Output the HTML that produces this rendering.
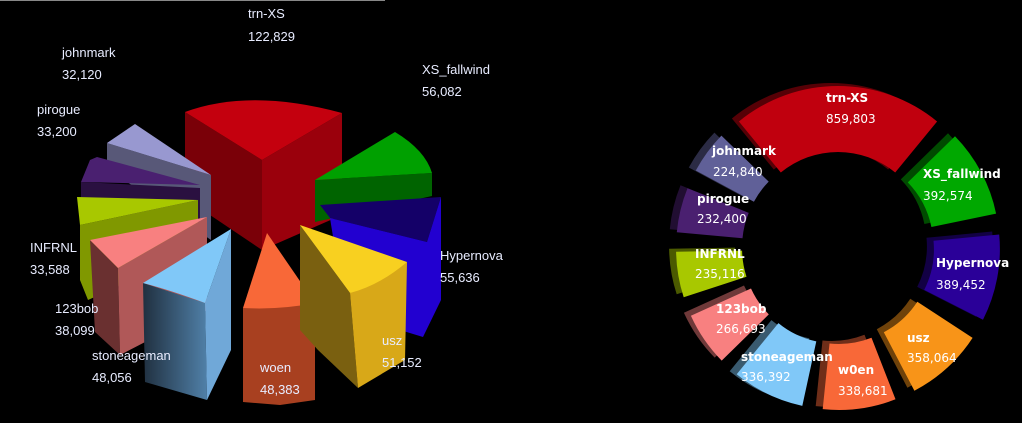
<!DOCTYPE html>
<html><head><style>
html,body{margin:0;padding:0;background:#000;width:1022px;height:423px;overflow:hidden}
svg{display:block}
.l{font-family:"Liberation Sans",sans-serif;font-size:13px;fill:#e8ecff}
.r{font-family:"DejaVu Sans","Liberation Sans",sans-serif;font-size:12px;fill:#fff}
.b{font-weight:bold}
</style></head><body>
<svg id="s" width="1022" height="423" viewBox="0 0 1022 423">
<defs>
<linearGradient id="gl" x1="0" x2="1"><stop offset="0" stop-color="#203040"/><stop offset="1" stop-color="#5080a8"/></linearGradient>
</defs>
<rect width="1022" height="423" fill="#000"/>
<line x1="0" y1="0.5" x2="385" y2="0.5" stroke="#888" stroke-width="1"/>
<!-- red -->
<polygon points="185,112 262,160 262,250 210,215 185,160" fill="#7a0008"/>
<polygon points="262,160 342,113 342,215 262,250" fill="#9a000c"/>
<path d="M262,160 L185,112 Q250,88 342,113 Z" fill="#c4000e"/>
<!-- green -->
<polygon points="315,180 432,173 432,196 315,222" fill="#006400"/>
<path d="M315,180 L395,132 Q425,150 432,173 Z" fill="#00a000"/>
<!-- blue -->
<polygon points="320,205 441,197 427,242 330,218" fill="#140068"/>
<polygon points="330,218 427,242 441,197 441,300 423,337 400,330 340,280" fill="#2200d0"/>
<!-- lavender -->
<polygon points="107,143 211,175 211,240 107,168" fill="#585878"/>
<path d="M107,143 L135,124 L211,175 Z" fill="#9898d0"/>
<!-- purple -->
<polygon points="81,182 200,188 200,240 81,200" fill="#2a1040"/>
<path d="M81,182 L90,160 L97,157 L200,185 Z" fill="#4a2070"/>
<!-- INFRNL -->
<polygon points="80,225 198,200 198,250 88,300 80,280" fill="#809800"/>
<path d="M77,197 L198,200 L80,225 Z" fill="#a8c800"/>
<!-- pink -->
<polygon points="90,240 118,268 120,355 95,332" fill="#6a3030"/>
<polygon points="118,268 207,217 207,310 120,355" fill="#b05858"/>
<path d="M90,240 L207,217 L118,268 Z" fill="#f88080"/>
<!-- light blue -->
<polygon points="143,283 205,303 207,400 145,382" fill="url(#gl)"/>
<polygon points="205,303 231,229 231,350 207,400" fill="#70a8d8"/>
<path d="M143,283 L231,229 L205,303 Q170,290 143,283 Z" fill="#80c8f8"/>
<!-- orange -->
<polygon points="243,308 315,303 315,400 280,405 243,402" fill="#a84020"/>
<path d="M267,233 L315,303 Q280,310 243,308 Z" fill="#f86838"/>
<!-- yellow -->
<polygon points="300,225 350,293 358,388 318,350 300,330" fill="#7a6010"/>
<polygon points="350,293 407,262 405,360 358,388" fill="#d8a818"/>
<path d="M300,225 L407,262 Q380,285 350,293 Z" fill="#f8d020"/>
<g class="l">
<text x="248" y="18">trn-XS</text><text x="248" y="41">122,829</text>
<text x="62" y="57">johnmark</text><text x="62" y="79">32,120</text>
<text x="37" y="114">pirogue</text><text x="37" y="136">33,200</text>
<text x="422" y="74">XS_fallwind</text><text x="422" y="96">56,082</text>
<text x="30" y="252">INFRNL</text><text x="30" y="274">33,588</text>
<text x="440" y="260">Hypernova</text><text x="440" y="282">55,636</text>
<text x="55" y="313">123bob</text><text x="55" y="335">38,099</text>
<text x="92" y="360">stoneageman</text><text x="92" y="382">48,056</text>
<text x="260" y="372">woen</text><text x="260" y="394">48,383</text>
<text x="382" y="345">usz</text><text x="382" y="367">51,152</text>
</g>
<g id="donut"></g>
<g class="r">
<text x="826" y="102" class="b">trn-XS</text><text x="826" y="123">859,803</text>
<text x="712" y="155" class="b">johnmark</text><text x="713" y="176">224,840</text>
<text x="923" y="178" class="b">XS_fallwind</text><text x="923" y="200">392,574</text>
<text x="697" y="203" class="b">pirogue</text><text x="697" y="223">232,400</text>
<text x="695" y="258" class="b">INFRNL</text><text x="695" y="278">235,116</text>
<text x="936" y="267" class="b">Hypernova</text><text x="936" y="289">389,452</text>
<text x="716" y="313" class="b">123bob</text><text x="716" y="333">266,693</text>
<text x="907" y="342" class="b">usz</text><text x="907" y="362">358,064</text>
<text x="741" y="361" class="b">stoneageman</text><text x="741" y="381">336,392</text>
<text x="838" y="374" class="b">w0en</text><text x="838" y="395">338,681</text>
</g>
</svg>
<script>
var d=[["#c0000e",859803],["#00a800",392574],["#2a0098",389452],["#f89418",358064],["#f86838",338681],["#80c8f8",336392],["#f88080",266693],["#a8c800",235116],["#4a2070",232400],["#606098",224840]];
var tot=0;d.forEach(function(x){tot+=x[1]});
var cx=838,cy=248,ro=156,ri=90;var start=-d[0][1]/tot*Math.PI;
var g=document.getElementById("donut"),out="",back="";
function pt(r,t,ox,oy){return (cx+ox+r*Math.sin(t)).toFixed(1)+","+(cy+oy-r*Math.cos(t)).toFixed(1)}
function shade(c){var n=parseInt(c.slice(1),16);var r=(n>>16)*0.45|0,gg=((n>>8)&255)*0.45|0,b=(n&255)*0.45|0;return "rgb("+r+","+gg+","+b+")"}
d.forEach(function(x){var s=start,e=start+x[1]/tot*2*Math.PI;start=e;var gap=0.055;s+=gap;e-=gap;var m=(s+e)/2;
var ex=6*Math.sin(m),ey=-6*Math.cos(m);
function path(ox,oy){var lg=(e-s)>Math.PI?1:0;return "M"+pt(ro,s,ox,oy)+" A"+ro+","+ro+" 0 "+lg+" 1 "+pt(ro,e,ox,oy)+" L"+pt(ri,e,ox,oy)+" A"+ri+","+ri+" 0 "+lg+" 0 "+pt(ri,s,ox,oy)+" Z"}
back+='<path d="'+path(ex-7,ey-3)+'" fill="'+shade(x[0])+'"/>';
out+='<path d="'+path(ex,ey)+'" fill="'+x[0]+'"/>';});
g.innerHTML=back+out;
</script>
</body></html>
